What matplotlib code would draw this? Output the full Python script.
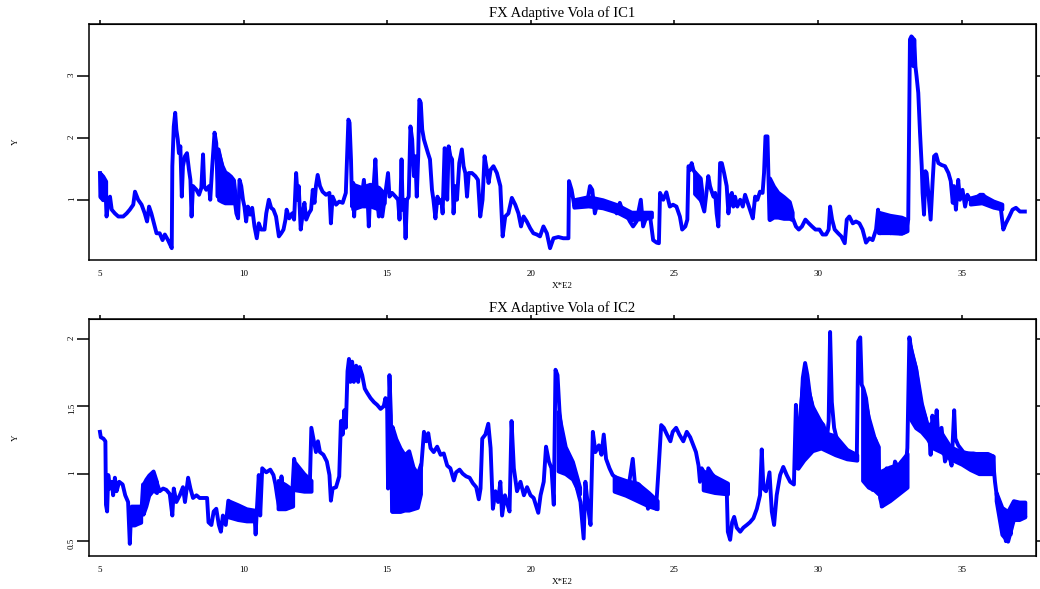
import numpy as np
import matplotlib
matplotlib.use("Agg")
from matplotlib import pyplot as plt

plt.rcParams['font.family'] = ['Liberation Serif', 'DejaVu Serif']

# ---- IC1 adaptive vola ----
ic1_x = [5.00, 5.03, 5.07, 5.10, 5.14, 5.19, 5.23, 5.29, 5.35, 5.41,
         5.52, 5.64, 5.81, 5.93, 6.04, 6.16, 6.22, 6.33, 6.45, 6.56,
         6.64, 6.71, 6.79, 6.88, 6.97, 7.08, 7.18, 7.26, 7.37, 7.47,
         7.50, 7.52, 7.57, 7.62, 7.66, 7.71, 7.75, 7.80, 7.85, 7.89,
         7.96, 8.03, 8.10, 8.15, 8.19, 8.24, 8.36, 8.45, 8.53, 8.59,
         8.63, 8.70, 8.80, 8.84, 8.91, 8.99, 9.05, 9.10, 9.13, 9.40,
         9.69, 9.75, 9.81, 9.86, 9.92, 9.98, 10.03, 10.09, 10.15, 10.23,
         10.30, 10.38, 10.46, 10.53, 10.61, 10.73, 10.79, 10.88, 10.96, 11.04,
         11.13, 11.23, 11.31, 11.39, 11.46, 11.50, 11.59, 11.69, 11.76, 11.83,
         11.89, 11.92, 11.99, 12.06, 12.12, 12.18, 12.27, 12.35, 12.41, 12.47,
         12.52, 12.58, 12.66, 12.75, 12.87, 12.99, 13.04, 13.10, 13.22, 13.33,
         13.45, 13.56, 13.65, 13.69, 13.74, 13.78, 13.82, 13.85, 13.90, 13.96,
         14.02, 14.07, 14.13, 14.19, 14.25, 14.31, 14.36, 14.42, 14.48, 14.54,
         14.59, 14.65, 14.71, 14.77, 14.83, 14.92, 15.03, 15.08, 15.17, 15.29,
         15.38, 15.43, 15.47, 15.50, 15.54, 15.59, 15.64, 15.69, 15.75, 15.81,
         15.87, 15.93, 15.98, 16.03, 16.08, 16.12, 16.17, 16.22, 16.28, 16.35,
         16.42, 16.49, 16.56, 16.61, 16.68, 16.75, 16.82, 16.89, 16.93, 17.00,
         17.05, 17.09, 17.14, 17.20, 17.26, 17.31, 17.37, 17.43, 17.51, 17.60,
         17.66, 17.72, 17.78, 17.84, 17.95, 18.07, 18.16, 18.24, 18.32, 18.39,
         18.47, 18.53, 18.60, 18.70, 18.82, 18.94, 19.02, 19.11, 19.22, 19.34,
         19.46, 19.57, 19.66, 19.75, 19.86, 19.98, 20.09, 20.21, 20.32, 20.44,
         20.56, 20.67, 20.79, 20.96, 21.13, 21.31, 21.33, 21.42, 21.52, 21.61,
         21.70, 21.79, 21.89, 21.98, 22.06, 22.14, 22.23, 22.33, 22.42, 22.52,
         22.64, 22.75, 22.87, 22.99, 23.10, 23.22, 23.33, 23.45, 23.56, 23.68,
         23.83, 23.91, 24.03, 24.14, 24.26, 24.38, 24.46, 24.50, 24.61, 24.72,
         24.84, 24.95, 25.07, 25.19, 25.27, 25.38, 25.45, 25.49, 25.55, 25.60,
         25.66, 25.72, 25.84, 25.92, 25.99, 26.04, 26.10, 26.18, 26.24, 26.30,
         26.36, 26.42, 26.47, 26.53, 26.59, 26.65, 26.73, 26.82, 26.88, 26.94,
         27.00, 27.05, 27.11, 27.19, 27.29, 27.38, 27.46, 27.55, 27.63, 27.73,
         27.81, 27.89, 27.98, 28.07, 28.12, 28.17, 28.24, 28.27, 28.31, 28.70,
         29.14, 29.23, 29.33, 29.44, 29.56, 29.68, 29.79, 29.91, 30.05, 30.16,
         30.28, 30.37, 30.42, 30.49, 30.58, 30.70, 30.81, 30.93, 31.00, 31.09,
         31.21, 31.32, 31.44, 31.55, 31.67, 31.79, 31.90, 32.02, 32.09, 32.16,
         32.25, 32.34, 32.44, 32.53, 32.65, 32.74, 32.83, 32.95, 33.06, 33.14,
         33.20, 33.25, 33.29, 33.32, 33.35, 33.39, 33.43, 33.49, 33.55, 33.61,
         33.64, 33.69, 33.74, 33.78, 33.84, 33.92, 33.99, 34.04, 34.11, 34.19,
         34.30, 34.42, 34.54, 34.62, 34.69, 34.73, 34.80, 34.88, 34.94, 35.03,
         35.12, 35.20, 35.29, 35.41, 35.52, 35.64, 35.75, 35.87, 35.96, 36.04,
         36.16, 36.28, 36.36, 36.45, 36.54, 36.66, 36.77, 36.89, 37.03, 37.20]
ic1_y = [1.43, 1.05, 1.38, 1.00, 1.32, 1.22, 0.73, 0.95, 1.05, 0.84,
         0.78, 0.73, 0.73, 0.78, 0.84, 0.92, 1.13, 1.00, 0.92, 0.78,
         0.65, 0.89, 0.78, 0.62, 0.46, 0.46, 0.35, 0.44, 0.35, 0.25,
         0.22, 1.54, 2.18, 2.40, 2.13, 1.97, 1.75, 1.86, 1.05, 1.54,
         1.70, 1.75, 1.48, 1.32, 0.73, 1.22, 1.16, 1.08, 1.19, 1.73,
         1.22, 1.16, 1.22, 1.00, 1.54, 2.08, 1.91, 1.05, 1.81, 1.20,
         1.00, 0.78, 0.70, 1.32, 1.22, 1.00, 0.89, 0.65, 0.89, 0.76,
         0.87, 0.57, 0.38, 0.62, 0.52, 0.52, 0.78, 1.00, 0.87, 0.84,
         0.73, 0.41, 0.46, 0.52, 0.68, 0.84, 0.70, 0.78, 0.68, 1.43,
         1.00, 1.22, 0.52, 0.78, 0.95, 0.68, 0.78, 0.84, 1.16, 0.95,
         1.22, 1.40, 1.22, 1.13, 1.08, 1.11, 0.62, 1.05, 0.92, 0.97,
         0.95, 1.11, 2.29, 2.24, 1.65, 0.89, 1.27, 0.73, 1.22, 1.00,
         1.16, 0.89, 1.11, 1.32, 1.00, 1.11, 0.57, 1.22, 1.00, 1.30,
         1.65, 1.00, 0.73, 1.11, 0.73, 1.05, 1.43, 1.05, 1.11, 1.05,
         1.00, 0.68, 1.11, 1.65, 0.84, 1.00, 0.38, 1.00, 1.05, 2.18,
         1.97, 1.38, 1.70, 1.05, 1.70, 2.61, 2.56, 2.13, 1.97, 1.86,
         1.75, 1.65, 1.16, 1.00, 0.70, 1.05, 0.95, 1.00, 0.78, 1.83,
         1.75, 1.00, 1.86, 1.70, 1.65, 0.78, 1.22, 1.00, 1.59, 1.81,
         1.54, 1.43, 1.05, 1.43, 1.43, 1.38, 1.32, 0.73, 1.00, 1.70,
         1.48, 1.27, 1.48, 1.54, 1.43, 1.22, 0.41, 0.73, 0.78, 1.03,
         0.92, 0.78, 0.57, 0.73, 0.65, 0.54, 0.46, 0.44, 0.41, 0.57,
         0.46, 0.22, 0.38, 0.40, 0.38, 0.38, 1.30, 1.16, 0.89, 1.00,
         0.89, 0.97, 0.92, 1.00, 1.22, 1.16, 0.78, 0.97, 0.89, 0.97,
         0.92, 0.87, 0.89, 0.78, 0.95, 0.78, 0.76, 0.65, 0.57, 0.65,
         1.00, 0.57, 0.73, 0.78, 0.35, 0.31, 0.30, 1.11, 1.00, 1.12,
         0.89, 0.92, 0.89, 0.73, 0.52, 0.57, 0.68, 1.54, 1.48, 1.59,
         1.48, 1.43, 1.32, 1.00, 0.89, 0.81, 1.05, 1.38, 1.22, 1.13,
         1.05, 1.11, 0.78, 0.57, 1.59, 1.59, 1.43, 1.22, 0.78, 1.05,
         1.11, 0.89, 1.05, 0.89, 1.00, 0.89, 1.08, 0.95, 0.84, 0.70,
         1.05, 1.00, 1.13, 1.11, 1.43, 2.02, 2.02, 1.43, 0.68, 0.90,
         0.68, 0.57, 0.52, 0.57, 0.68, 0.62, 0.57, 0.52, 0.52, 0.44,
         0.44, 0.52, 0.89, 0.68, 0.52, 0.46, 0.41, 0.30, 0.68, 0.73,
         0.62, 0.65, 0.62, 0.52, 0.31, 0.38, 0.35, 0.52, 0.84, 0.46,
         0.68, 0.52, 0.57, 0.46, 0.62, 0.68, 0.46, 0.46, 0.49, 0.68,
         3.58, 3.63, 3.61, 3.15, 3.58, 3.15, 2.99, 2.72, 2.08, 1.54,
         1.11, 0.76, 1.46, 1.43, 1.11, 0.68, 1.30, 1.70, 1.73, 1.59,
         1.56, 1.54, 1.43, 1.30, 0.95, 1.22, 0.84, 1.32, 1.00, 1.16,
         0.89, 1.08, 1.00, 0.97, 1.03, 1.08, 1.08, 1.00, 0.92, 0.97,
         0.89, 0.92, 0.87, 0.52, 0.62, 0.73, 0.84, 0.87, 0.81, 0.81]

# dense noisy stretches of IC1: x, lower edge, upper edge
ic1_band_x = [[5.00, 5.10, 5.20], [9.13, 9.25, 9.35, 9.45, 9.55, 9.65, 9.70],
              [13.80, 14.10, 14.40, 14.70, 14.90], [21.50, 22.00, 22.50, 23.00, 23.50, 24.00, 24.20],
              [25.70, 25.80, 25.90, 25.96], [28.31, 28.45, 28.60, 28.80, 29.00, 29.10],
              [32.10, 32.50, 32.90, 33.10], [35.30, 35.70, 36.10, 36.40]]
ic1_band_lo = [[1.05, 1.00, 1.05], [1.00, 0.97, 0.95, 0.95, 0.95, 0.95, 0.97],
               [0.85, 0.90, 0.90, 0.85, 0.95], [0.88, 0.90, 0.87, 0.80, 0.68, 0.70, 0.72],
               [1.10, 1.05, 1.00, 0.95], [0.68, 0.72, 0.72, 0.70, 0.70, 0.68],
               [0.47, 0.47, 0.46, 0.50], [0.93, 0.95, 0.88, 0.85]]
ic1_band_hi = [[1.43, 1.38, 1.30], [1.75, 1.55, 1.45, 1.42, 1.38, 1.32, 1.10],
               [1.25, 1.20, 1.25, 1.20, 1.10], [1.00, 1.05, 1.00, 0.92, 0.80, 0.80, 0.80],
               [1.45, 1.40, 1.35, 1.10], [1.35, 1.22, 1.12, 1.05, 0.97, 0.80],
               [0.80, 0.75, 0.72, 0.68], [1.03, 1.08, 0.98, 0.93]]

# ---- IC2 adaptive vola ----
ic2_x = [5.00, 5.03, 5.12, 5.19, 5.21, 5.25, 5.29, 5.35, 5.41, 5.46,
         5.52, 5.58, 5.67, 5.79, 5.88, 5.98, 6.04, 6.09, 6.25, 6.45,
         6.50, 6.70, 6.85, 6.97, 7.08, 7.20, 7.31, 7.43, 7.52, 7.57,
         7.66, 7.78, 7.89, 7.96, 8.07, 8.15, 8.24, 8.36, 8.47, 8.61,
         8.73, 8.78, 8.88, 8.96, 9.05, 9.14, 9.21, 9.28, 9.38, 9.47,
         9.80, 10.10, 10.38, 10.42, 10.46, 10.53, 10.58, 10.65, 10.79, 10.93,
         11.04, 11.11, 11.18, 11.25, 11.32, 11.39, 11.48, 11.60, 11.69, 11.76,
         11.83, 11.92, 12.01, 12.12, 12.23, 12.31, 12.36, 12.43, 12.52, 12.59,
         12.66, 12.78, 12.90, 12.99, 13.04, 13.10, 13.22, 13.33, 13.39, 13.45,
         13.51, 13.56, 13.62, 13.67, 13.72, 13.78, 13.84, 13.92, 13.99, 14.04,
         14.13, 14.22, 14.30, 14.42, 14.54, 14.65, 14.77, 14.88, 14.94, 15.00,
         15.03, 15.08, 15.13, 15.17, 15.45, 15.75, 16.05, 16.19, 16.28, 16.36,
         16.43, 16.51, 16.62, 16.74, 16.86, 16.97, 17.09, 17.20, 17.32, 17.40,
         17.52, 17.63, 17.75, 17.87, 17.98, 18.10, 18.19, 18.25, 18.31, 18.42,
         18.52, 18.60, 18.68, 18.77, 18.86, 18.94, 19.00, 19.10, 19.19, 19.26,
         19.33, 19.41, 19.52, 19.64, 19.76, 19.87, 19.99, 20.10, 20.26, 20.34,
         20.45, 20.53, 20.63, 20.72, 20.80, 20.86, 20.93, 21.00, 21.07, 21.15,
         21.26, 21.38, 21.50, 21.61, 21.73, 21.84, 21.90, 22.00, 22.08, 22.16,
         22.25, 22.37, 22.46, 22.54, 22.62, 22.74, 22.85, 22.97, 23.09, 23.20,
         23.32, 23.43, 23.55, 23.64, 23.76, 23.87, 23.99, 24.08, 24.18, 24.28,
         24.36, 24.45, 24.54, 24.63, 24.74, 24.86, 24.94, 25.06, 25.17, 25.31,
         25.43, 25.55, 25.66, 25.75, 25.84, 25.89, 25.95, 26.03, 26.10, 26.18,
         26.30, 26.42, 26.53, 26.65, 26.76, 26.82, 26.86, 26.94, 27.01, 27.08,
         27.17, 27.29, 27.40, 27.52, 27.63, 27.75, 27.87, 27.98, 28.04, 28.10,
         28.19, 28.31, 28.39, 28.47, 28.56, 28.68, 28.79, 28.91, 29.03, 29.16,
         29.23, 29.28, 29.37, 29.47, 29.55, 29.63, 29.72, 29.84, 29.95, 30.07,
         30.19, 30.30, 30.37, 30.42, 30.48, 30.56, 30.65, 30.77, 30.88, 31.00,
         31.11, 31.23, 31.35, 31.40, 31.47, 31.52, 31.58, 31.67, 31.76, 31.86,
         31.90, 31.98, 32.09, 32.16, 32.23, 32.30, 32.39, 32.48, 32.58, 32.68,
         32.80, 32.91, 33.03, 33.11, 33.18, 33.26, 33.32, 33.41, 33.53, 33.64,
         33.76, 33.87, 33.92, 33.98, 34.07, 34.13, 34.20, 34.30, 34.42, 34.54,
         34.65, 34.74, 34.78, 34.88, 35.06, 35.23, 35.41, 35.64, 35.87, 36.08,
         36.16, 36.22, 36.31, 36.40, 36.47, 36.54, 36.62, 36.71, 36.78, 36.86,
         36.94, 37.03, 37.12, 37.20]
ic2_y = [1.31, 1.27, 1.26, 1.24, 0.77, 0.72, 0.99, 0.89, 0.94, 0.84,
         0.97, 0.87, 0.94, 0.92, 0.84, 0.79, 0.48, 0.74, 0.70, 0.74,
         0.92, 0.90, 0.95, 0.94, 0.87, 0.89, 0.88, 0.85, 0.69, 0.89,
         0.79, 0.84, 0.90, 0.79, 0.97, 0.89, 0.82, 0.84, 0.82, 0.82,
         0.82, 0.64, 0.62, 0.72, 0.74, 0.62, 0.57, 0.69, 0.62, 0.80,
         0.72, 0.70, 0.70, 0.55, 0.72, 0.99, 0.69, 1.04, 1.01, 1.03,
         0.99, 0.92, 0.82, 0.74, 0.98, 0.84, 0.74, 0.79, 0.84, 1.11,
         1.04, 0.99, 0.94, 0.90, 0.89, 0.94, 1.34, 1.26, 1.16, 1.24,
         1.16, 1.14, 1.09, 0.99, 0.80, 0.89, 0.90, 0.98, 1.39, 1.29,
         1.47, 1.34, 1.76, 1.85, 1.68, 1.83, 1.68, 1.80, 1.68, 1.79,
         1.73, 1.63, 1.60, 1.56, 1.53, 1.51, 1.48, 1.50, 1.56, 1.48,
         0.89, 1.73, 1.43, 0.72, 0.95, 0.95, 0.88, 1.06, 1.31, 1.24,
         1.30, 1.19, 1.16, 1.20, 1.14, 1.15, 1.06, 1.04, 0.95, 1.01,
         1.03, 1.00, 0.98, 0.97, 0.93, 0.90, 0.81, 0.89, 1.26, 1.29,
         1.37, 1.19, 0.74, 0.87, 0.79, 0.94, 0.69, 0.84, 0.77, 0.72,
         1.39, 1.04, 0.87, 0.94, 0.84, 0.90, 0.84, 0.82, 0.71, 0.84,
         0.94, 1.20, 1.09, 1.04, 0.77, 1.77, 1.73, 1.46, 1.31, 1.21,
         1.16, 1.09, 1.01, 0.89, 0.79, 0.52, 0.94, 0.74, 0.62, 1.31,
         1.16, 1.21, 1.14, 1.29, 1.11, 1.04, 0.99, 0.97, 0.94, 0.89,
         0.92, 0.94, 1.11, 0.89, 0.92, 0.89, 0.87, 0.74, 0.82, 0.78,
         0.74, 1.04, 1.36, 1.34, 1.29, 1.24, 1.31, 1.34, 1.29, 1.24,
         1.31, 1.27, 1.21, 1.16, 1.06, 0.94, 1.04, 1.01, 0.90, 1.04,
         1.00, 0.97, 0.95, 0.94, 0.93, 0.89, 0.57, 0.51, 0.64, 0.68,
         0.60, 0.57, 0.60, 0.62, 0.64, 0.67, 0.74, 0.84, 1.18, 0.89,
         0.87, 1.01, 0.72, 0.62, 0.84, 0.99, 1.05, 0.99, 0.94, 0.92,
         1.51, 1.04, 1.29, 1.71, 1.82, 1.73, 1.58, 1.46, 1.41, 1.39,
         1.36, 1.24, 1.39, 2.05, 1.53, 1.34, 1.26, 1.21, 1.19, 1.16,
         1.16, 1.15, 1.13, 1.98, 2.01, 1.66, 1.63, 1.56, 1.41, 1.29,
         0.88, 1.26, 1.19, 0.82, 0.76, 1.01, 1.04, 0.84, 0.94, 1.09,
         1.04, 1.09, 0.99, 1.19, 2.01, 1.90, 1.85, 1.78, 1.58, 1.48,
         1.40, 1.29, 1.14, 1.43, 1.29, 1.47, 1.21, 1.34, 1.09, 1.16,
         1.06, 1.47, 1.26, 1.21, 1.16, 1.15, 1.15, 1.14, 1.14, 1.13,
         0.94, 0.84, 0.79, 0.69, 0.60, 0.50, 0.60, 0.55, 0.77, 0.72,
         0.77, 0.67, 0.74, 0.69]

ic2_band_x = [[6.09, 6.20, 6.30, 6.42], [6.50, 6.60, 6.70, 6.85, 6.97],
              [9.47, 9.80, 10.10, 10.38], [11.20, 11.45, 11.71], [11.80, 12.10, 12.35],
              [15.17, 15.30, 15.45, 15.60, 15.75, 15.90, 16.05, 16.16],
              [20.95, 21.20, 21.45, 21.70], [22.90, 23.30, 23.70, 24.10, 24.40],
              [26.00, 26.40, 26.85],
              [29.30, 29.50, 29.80, 30.10, 30.30, 30.60, 31.00, 31.35],
              [31.55, 31.75, 31.95, 32.10], [32.20, 32.50, 32.80, 33.10],
              [33.20, 33.40, 33.60, 33.80, 34.00, 34.30, 34.60, 35.00, 35.30, 35.60, 35.90, 36.10],
              [36.20, 36.40, 36.60, 36.80, 37.00, 37.20]]
ic2_band_lo = [[0.62, 0.62, 0.63, 0.64], [0.70, 0.76, 0.84, 0.88, 0.86],
               [0.68, 0.66, 0.65, 0.65], [0.74, 0.74, 0.76], [0.88, 0.87, 0.87],
               [0.72, 0.72, 0.72, 0.73, 0.73, 0.74, 0.75, 0.85],
               [1.02, 1.00, 0.96, 0.85], [0.87, 0.84, 0.80, 0.76, 0.74],
               [0.88, 0.86, 0.85],
               [1.04, 1.10, 1.17, 1.19, 1.17, 1.14, 1.11, 1.10],
               [0.95, 0.90, 0.88, 0.85], [0.76, 0.80, 0.85, 0.90],
               [1.41, 1.34, 1.31, 1.26, 1.19, 1.16, 1.11, 1.07, 1.03, 1.00, 1.00, 1.00],
               [0.80, 0.55, 0.50, 0.66, 0.66, 0.68]]
ic2_band_hi = [[0.76, 0.76, 0.76, 0.76], [0.92, 0.96, 0.99, 1.02, 0.94],
               [0.80, 0.77, 0.74, 0.73], [0.95, 0.92, 0.88], [1.08, 1.00, 0.95],
               [1.35, 1.26, 1.19, 1.14, 1.17, 1.05, 1.00, 1.07],
               [1.46, 1.20, 1.09, 0.90], [0.98, 0.95, 0.93, 0.86, 0.80],
               [1.02, 0.98, 0.93],
               [1.30, 1.75, 1.50, 1.38, 1.30, 1.28, 1.18, 1.14],
               [1.63, 1.42, 1.27, 1.20], [1.02, 1.05, 1.07, 1.15],
               [1.95, 1.78, 1.52, 1.36, 1.38, 1.30, 1.20, 1.16, 1.15, 1.15, 1.15, 1.13],
               [0.86, 0.75, 0.72, 0.80, 0.79, 0.79]]

x_ticks = [5, 10, 15, 20, 25, 30, 35]
ic1_yticks = [1, 2, 3]
ic1_ylabels = ['1', '2', '3']
ic2_yticks = [0.5, 1, 1.5, 2]
ic2_ylabels = ['0.5', '1', '1.5', '2']

BLUE = '#0000ff'
LW = 2.8


def draw_panel(ax, x, y, bx, blo, bhi, title, yticks, ylabels, ylim):
    # noisy stretches drawn as filled bands, then the series on top
    for xs, lo, hi in zip(bx, blo, bhi):
        ax.fill_between(xs, lo, hi, facecolor=BLUE, edgecolor=BLUE, linewidth=LW)
    ax.plot(x, y, color=BLUE, linewidth=LW, solid_joinstyle='round')

    ax.set_xlim(4.62, 37.59)
    ax.set_ylim(*ylim)
    ax.set_title(title, fontsize=10.5, pad=5)
    ax.set_xlabel('X*E2', fontsize=6.5, labelpad=3)
    ax.set_ylabel('Y', fontsize=6.5)
    ax.yaxis.set_label_coords(-0.073, 0.5)

    ax.set_xticks(x_ticks)
    ax.set_xticklabels([str(t) for t in x_ticks])
    ax.set_yticks(yticks)
    ax.set_yticklabels(ylabels)
    ax.tick_params(axis='x', length=0, labelsize=6.5, pad=7)
    ax.tick_params(axis='y', length=8.5, width=1.1, labelsize=6.5,
                   labelrotation=90, pad=1, direction='out')
    for s in ax.spines.values():
        s.set_linewidth(1.1)

    # short ticks on top and right, no labels
    top = ax.secondary_xaxis('top')
    top.set_xticks(x_ticks)
    top.tick_params(length=3, width=1.1, labeltop=False, direction='out')
    right = ax.secondary_yaxis('right')
    right.set_yticks(yticks)
    right.tick_params(length=3, width=1.1, labelright=False, direction='out')


fig = plt.figure(figsize=(10.4, 5.89), dpi=100)
ax1 = fig.add_axes([0.0856, 0.5586, 0.9106, 0.4007])
ax2 = fig.add_axes([0.0856, 0.0560, 0.9106, 0.4024])

draw_panel(ax1, ic1_x, ic1_y, ic1_band_x, ic1_band_lo, ic1_band_hi,
           'FX Adaptive Vola of IC1', ic1_yticks, ic1_ylabels, (0.03, 3.83))
draw_panel(ax2, ic2_x, ic2_y, ic2_band_x, ic2_band_lo, ic2_band_hi,
           'FX Adaptive Vola of IC2', ic2_yticks, ic2_ylabels, (0.39, 2.146))

fig.savefig('out.png', dpi=100)
